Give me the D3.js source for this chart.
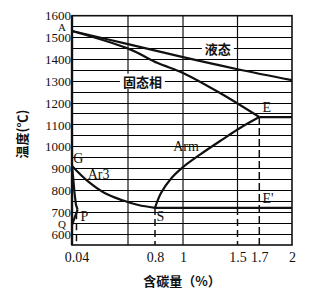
<!DOCTYPE html>
<html>
<head>
<meta charset="utf-8">
<script src="https://cdn.jsdelivr.net/npm/d3@7"></script>
<style>
  body { margin: 0; background: #fff; }
  text { font-family: "Liberation Serif", "DejaVu Serif", serif; fill: #111; }
  .cjk { font-family: "Noto Sans CJK SC", sans-serif; font-weight: bold; }
</style>
</head>
<body>
<div id="chart"></div>
<script>
// tick labels
const carbonTicks = [0.04, 0.8, 1, 1.5, 1.7, 2];
const tempTicks = [600, 700, 800, 900, 1000, 1100, 1200, 1300, 1400, 1500, 1600];

// phase lines, [carbon %, temperature C]
const liquidus = [[0, 1530], [0.5, 1470], [1, 1410], [1.5, 1355], [2, 1305]];
const solidus = [[0, 1530], [0.51, 1448], [0.82, 1383], [1, 1338], [1.34, 1246], [1.7, 1136]];
const ar3 = [[0, 912], [0.146, 840], [0.295, 787], [0.444, 756], [0.614, 733], [0.8, 720]];
const arm = [[0.8, 720], [0.843, 788], [0.921, 859], [1, 907], [1.156, 964], [1.367, 1035], [1.523, 1086], [1.7, 1136]];
const gp = [[0, 912], [0.012, 850], [0.022, 790], [0.035, 735], [0.05, 712]];
const pq = [[0.05, 712], [0, 642]];
const eLine = [[1.7, 1136], [2, 1136]];
const skLine = [[0.8, 720], [2, 720]];

// point names and curve names
const pointLabels = [
  { text: 'A', c: 0, t: 1550 },
  { text: 'G', c: 0.012, t: 944 },
  { text: 'Q', c: 0, t: 648 },
  { text: 'P', c: 0.075, t: 680 },
  { text: 'S', c: 0.81, t: 680 },
  { text: 'E', c: 1.73, t: 1180 },
  { text: "E'", c: 1.73, t: 765 },
  { text: 'Ar3', c: 0.14, t: 875 },
  { text: 'Arm', c: 0.93, t: 1000 }
];
const regionLabels = [
  { text: '液态', c: 1.32, t: 1450 },
  { text: '固态相', c: 0.66, t: 1300 }
];

const width = 321, height = 294;

const x = d3.scaleLinear()
  .domain([0, 0.5, 0.8, 1, 2])
  .range([72, 128, 155, 183, 292]);
const y = d3.scaleLinear()
  .domain([550, 1600])
  .range([245, 15.7]);

const svg = d3.select('#chart').append('svg')
  .attr('width', width)
  .attr('height', height);

const ink = '#111';

// horizontal grid every 50 degrees
svg.append('g').selectAll('line')
  .data(d3.range(600, 1600, 50))
  .enter().append('line')
  .attr('x1', x(0)).attr('x2', x(2))
  .attr('y1', d => y(d)).attr('y2', d => y(d))
  .attr('stroke', '#000').attr('stroke-width', 1)
  .attr('shape-rendering', 'crispEdges');

// vertical grid
svg.append('g').selectAll('line')
  .data([0.5, 1])
  .enter().append('line')
  .attr('x1', d => x(d)).attr('x2', d => x(d))
  .attr('y1', y(1600)).attr('y2', y(550))
  .attr('stroke', ink).attr('stroke-width', 1.2);
svg.append('line')
  .attr('x1', x(1.5)).attr('x2', x(1.5))
  .attr('y1', y(1600)).attr('y2', y(720))
  .attr('stroke', ink).attr('stroke-width', 1.2);

// dashed drop lines
const drops = [[0.04, 700], [0.8, 720], [1.5, 720], [1.7, 1136]];
svg.append('g').selectAll('line')
  .data(drops)
  .enter().append('line')
  .attr('x1', d => x(d[0])).attr('x2', d => x(d[0]))
  .attr('y1', d => y(d[1])).attr('y2', y(550))
  .attr('stroke', ink).attr('stroke-width', 1.5)
  .attr('stroke-dasharray', '7,4');

// frame
svg.append('rect')
  .attr('x', x(0)).attr('y', y(1600))
  .attr('width', x(2) - x(0)).attr('height', y(550) - y(1600))
  .attr('fill', 'none').attr('stroke', ink).attr('stroke-width', 1.6);
svg.append('line')
  .attr('x1', x(0)).attr('x2', x(0))
  .attr('y1', y(1600)).attr('y2', y(550))
  .attr('stroke', ink).attr('stroke-width', 2.4);

// region labels with white boxes that break the grid
regionLabels.forEach(d => {
  const t = svg.append('text')
    .attr('class', 'cjk')
    .attr('x', x(d.c)).attr('y', y(d.t))
    .attr('text-anchor', 'middle')
    .attr('dominant-baseline', 'central')
    .attr('font-size', 13)
    .text(d.text);
  const b = t.node().getBBox();
  svg.insert('rect', 'text')
    .attr('x', b.x - 3).attr('y', b.y + 2)
    .attr('width', b.width + 6).attr('height', b.height - 4)
    .attr('fill', '#fff');
});

const curve = d3.line()
  .x(d => x(d[0]))
  .y(d => y(d[1]))
  .curve(d3.curveCatmullRom.alpha(0.5));
const straight = d3.line()
  .x(d => x(d[0]))
  .y(d => y(d[1]));

[liquidus, solidus, ar3, arm].forEach(s => {
  svg.append('path').attr('d', curve(s))
    .attr('fill', 'none').attr('stroke', ink).attr('stroke-width', 2.2);
});
[gp, pq, eLine, skLine].forEach(s => {
  svg.append('path').attr('d', straight(s))
    .attr('fill', 'none').attr('stroke', ink).attr('stroke-width', 2.2);
});

// point and curve labels
svg.append('g').selectAll('text')
  .data(pointLabels)
  .enter().append('text')
  .attr('x', d => x(d.c))
  .attr('y', d => y(d.t))
  .attr('text-anchor', d => d.c === 0 ? 'end' : 'start')
  .attr('dominant-baseline', 'central')
  .attr('font-size', d => d.c === 0 ? 11 : 14)
  .attr('dx', d => d.c === 0 ? -6 : 0)
  .text(d => d.text);

// axes
const yAxis = svg.append('g')
  .attr('transform', 'translate(' + x(0) + ',0)')
  .call(d3.axisLeft(y).tickValues(tempTicks).tickSize(0).tickPadding(1)
    .tickFormat(d3.format('d')));
yAxis.select('.domain').remove();
yAxis.selectAll('text')
  .attr('font-family', '"Liberation Serif", serif')
  .attr('font-size', 13).attr('fill', ink);

const xAxis = svg.append('g')
  .attr('transform', 'translate(0,' + y(550) + ')')
  .call(d3.axisBottom(x).tickValues(carbonTicks).tickSize(0).tickPadding(7)
    .tickFormat(d => String(d)));
xAxis.select('.domain').remove();
xAxis.selectAll('text')
  .attr('font-family', '"Liberation Serif", serif')
  .attr('font-size', 14).attr('fill', ink);

// axis titles
svg.append('text')
  .attr('class', 'cjk')
  .attr('transform', 'translate(27,134) rotate(-90)')
  .attr('text-anchor', 'middle')
  .attr('font-size', 13)
  .text('温度(℃)');
svg.append('text')
  .attr('class', 'cjk')
  .attr('x', 182).attr('y', 286)
  .attr('text-anchor', 'middle')
  .attr('font-size', 13)
  .text('含碳量（%）');
</script>
</body>
</html>
